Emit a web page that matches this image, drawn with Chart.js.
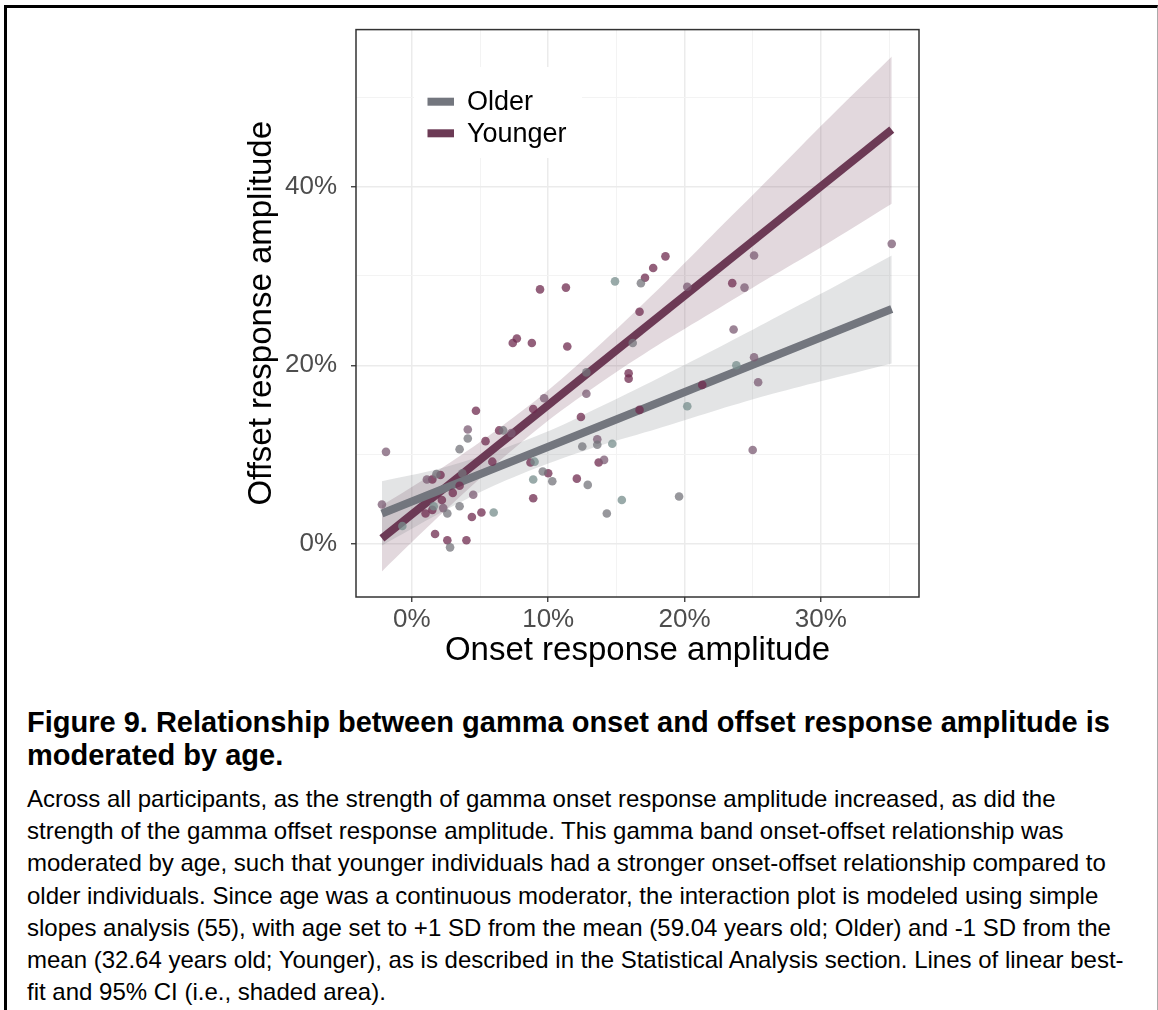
<!DOCTYPE html>
<html>
<head>
<meta charset="utf-8">
<script src="https://cdn.jsdelivr.net/npm/chart.js@4.4.1/dist/chart.umd.min.js"></script>
<style>
  html, body { margin: 0; padding: 0; background: #fff; }
  body { width: 1158px; height: 1010px; position: relative; overflow: hidden;
         font-family: "Liberation Sans", Arial, sans-serif; color: #000; }
  #frame { position: absolute; left: 4px; top: 5px; width: 1150px; height: 1010px;
           border-top: 3px solid #000; border-left: 3px solid #000; border-right: 1px solid #aaa; }
  #plot { position: absolute; left: 0; top: 0; }
  .title { position: absolute; left: 27px; top: 706px; font-weight: bold; font-size: 29px;
           line-height: 33px; white-space: nowrap; }
  .body { position: absolute; left: 27px; top: 783px; font-size: 24px; line-height: 32.2px;
          white-space: nowrap; }
</style>
</head>
<body>
<div id="frame"></div>
<canvas id="plot" width="1158" height="690"></canvas>
<div class="title">Figure 9. Relationship between gamma onset and offset response amplitude is<br>moderated by age.</div>
<div class="body">Across all participants, as the strength of gamma onset response amplitude increased, as did the<br>strength of the gamma offset response amplitude. This gamma band onset-offset relationship was<br>moderated by age, such that younger individuals had a stronger onset-offset relationship compared to<br>older individuals. Since age was a continuous moderator, the interaction plot is modeled using simple<br>slopes analysis (55), with age set to +1 SD from the mean (59.04 years old; Older) and -1 SD from the<br>mean (32.64 years old; Younger), as is described in the Statistical Analysis section. Lines of linear best-<br>fit and 95% CI (i.e., shaded area).</div>
<script>
// ---- data (percent) ----
const seriesNames = ['Older', 'Younger'];

// fitted lines (end points)
const fitX = [-2.2, 35.2];
const olderFit = [3.4, 26.3];
const youngerFit = [0.6, 46.4];

// 95% CI ribbons
const bandX = [-2.2, 2, 6, 10, 14, 18, 22, 26, 30, 35.2];
const olderUpper = [7.0, 8.4, 10.3, 12.6, 15.5, 18.5, 21.6, 24.8, 28.0, 32.3];
const olderLower = [-0.2, 3.4, 6.5, 9.0, 11.1, 12.9, 14.8, 16.6, 18.2, 20.2];
const youngerUpper = [4.3, 8.3, 12.5, 17.2, 22.6, 28.4, 34.5, 40.6, 46.8, 54.6];
const youngerLower = [-3.1, 3.1, 8.7, 13.8, 18.2, 22.2, 25.9, 29.6, 33.2, 38.1];

// participants, grouped by the shade of their dot (age colour scale)
const tealOnset = [-0.7, 1.6, 6.0, 14.9, 14.7, 9.0, 8.9, 15.4, 23.8, 20.2];
const tealOffset = [2.0, 4.2, 3.5, 29.4, 11.2, 9.2, 7.2, 4.9, 20.0, 15.4];

const grayOnset = [4.1, 3.5, 6.7, 1.8, 3.7, 2.6, 3.5, 2.8, 16.8, 16.2, 12.8, 13.6, 12.5, 9.6, 10.3, 12.9, 14.3, 19.6];
const grayOffset = [11.8, 10.6, 12.7, 7.8, 7.9, 3.4, 4.2, -0.4, 29.2, 22.5, 19.2, 11.1, 10.9, 8.1, 7.0, 6.6, 3.4, 5.3];

const mauveOnset = [-1.9, -2.2, 1.1, 2.3, 4.5, 4.1, 12.8, 9.7, 7.3, 13.6, 14.1, 20.2, 24.4, 23.6, 25.1, 25.1, 25.4, 25.0, 35.2];
const mauveOffset = [10.3, 4.4, 7.2, 4.0, 5.5, 12.8, 16.8, 16.3, 12.4, 11.7, 9.4, 28.8, 28.7, 24.0, 32.3, 20.9, 18.1, 10.5, 33.6];

const purpleOnset = [4.7, 5.4, 6.4, 5.9, 1.5, 2.1, 3.5, 3.0, 2.2, 1.5, 1.0, 4.4, 5.1, 1.7, 2.6, 4.0, 9.4, 11.3, 7.4, 7.7, 8.8, 11.4, 16.7, 15.9, 15.9, 8.9, 12.4, 16.7, 8.7, 13.7, 10.0, 12.1, 8.9, 18.6, 17.7, 17.1, 23.5, 21.3];
const purpleOffset = [14.9, 11.5, 12.7, 9.2, 7.2, 7.7, 6.5, 5.7, 4.9, 3.8, 3.4, 3.0, 3.5, 1.1, 0.4, 0.4, 28.5, 28.7, 22.5, 23.0, 22.5, 22.1, 26.0, 19.1, 18.5, 15.1, 14.2, 15.0, 9.1, 9.1, 7.9, 7.3, 5.1, 32.2, 30.9, 29.8, 29.2, 17.8];

// axes
const xTicks = [0, 5, 10, 15, 20, 25, 30, 35];
const xLabelled = [0, 10, 20, 30];
const yTicks = [0, 10, 20, 30, 40, 50];
const yLabelled = [0, 20, 40];

const olderColor = '#73767e';
const youngerColor = '#6c3a55';

const zip = (xs, ys) => xs.map((x, i) => ({ x: x, y: ys[i] }));

const pointSet = (xs, ys, color) => ({
  type: 'scatter',
  data: zip(xs, ys),
  backgroundColor: color,
  borderWidth: 0,
  pointRadius: 4.3,
  order: 0
});
const lineSet = (ys, color) => ({
  type: 'line',
  data: zip(fitX, ys),
  borderColor: color,
  borderWidth: 8,
  borderCapStyle: 'butt',
  pointRadius: 0,
  fill: false,
  order: 1
});
const bandSet = (ys, fill, color) => ({
  type: 'line',
  data: zip(bandX, ys),
  borderWidth: 0,
  borderColor: 'transparent',
  pointRadius: 0,
  tension: 0.3,
  fill: fill,
  backgroundColor: color,
  order: 2
});

// ggplot-like legend inside the panel + full panel border
const panelExtras = {
  id: 'panelExtras',
  afterDraw(chart) {
    const c = chart.ctx;
    const a = chart.chartArea;
    c.save();
    c.fillStyle = '#fff';
    c.fillRect(414, 67, 168, 91);
    const keys = [[olderColor, 101.7], [youngerColor, 133.3]];
    keys.forEach((k, i) => {
      c.fillStyle = k[0];
      c.fillRect(427.5, k[1] - 4, 26.5, 8);
      c.fillStyle = '#000';
      c.font = '27px "Liberation Sans", Arial, sans-serif';
      c.textBaseline = 'middle';
      c.textAlign = 'left';
      c.fillText(seriesNames[i], 467, k[1] + 1);
    });
    c.strokeStyle = '#333';
    c.lineWidth = 1.5;
    c.strokeRect(a.left, a.top, a.right - a.left, a.bottom - a.top);
    c.restore();
  }
};

const gridColor = (list) => (ctx) => list.includes(ctx.tick.value) ? '#ebebeb' : '#f3f3f3';
const tickColor = (list) => (ctx) => list.includes(ctx.tick.value) ? '#333' : 'rgba(0,0,0,0)';

new Chart(document.getElementById('plot'), {
  data: {
    datasets: [
      pointSet(tealOnset, tealOffset, 'rgba(119,142,140,0.75)'),
      pointSet(grayOnset, grayOffset, 'rgba(116,116,123,0.75)'),
      pointSet(mauveOnset, mauveOffset, 'rgba(123,91,115,0.75)'),
      pointSet(purpleOnset, purpleOffset, 'rgba(111,43,79,0.75)'),
      lineSet(olderFit, olderColor),
      lineSet(youngerFit, youngerColor),
      bandSet(olderUpper, '+1', 'rgba(116,119,126,0.2)'),
      bandSet(olderLower, false, 'transparent'),
      bandSet(youngerUpper, '+1', 'rgba(110,58,86,0.2)'),
      bandSet(youngerLower, false, 'transparent')
    ]
  },
  options: {
    responsive: false,
    animation: false,
    events: [],
    layout: { padding: { left: 242, top: 27, right: 239, bottom: 19 } },
    plugins: { legend: { display: false }, tooltip: { enabled: false } },
    scales: {
      x: {
        type: 'linear',
        min: -4.1,
        max: 37.2,
        afterBuildTicks: (s) => { s.ticks = xTicks.map(v => ({ value: v })); },
        afterFit: (s) => { s.height = 74; },
        ticks: {
          autoSkip: false,
          maxRotation: 0,
          padding: 2,
          color: '#4d4d4d',
          font: { size: 26, family: '"Liberation Sans", Arial, sans-serif' },
          callback: (v) => xLabelled.includes(v) ? v + '%' : ''
        },
        grid: {
          color: gridColor(xLabelled),
          lineWidth: (ctx) => xLabelled.includes(ctx.tick.value) ? 1.5 : 1,
          tickLength: 5,
          tickColor: tickColor(xLabelled),
          tickWidth: 1.3
        },
        border: { display: false },
        title: {
          display: true,
          text: 'Onset response amplitude',
          color: '#000',
          padding: 0,
          font: { size: 33, family: '"Liberation Sans", Arial, sans-serif' }
        }
      },
      y: {
        type: 'linear',
        min: -5.96,
        max: 57.6,
        afterBuildTicks: (s) => { s.ticks = yTicks.map(v => ({ value: v })); },
        afterFit: (s) => { s.width = 114; },
        ticks: {
          autoSkip: false,
          padding: 14,
          color: '#4d4d4d',
          font: { size: 26, family: '"Liberation Sans", Arial, sans-serif' },
          callback: (v) => yLabelled.includes(v) ? v + '%' : ''
        },
        grid: {
          color: gridColor(yLabelled),
          lineWidth: (ctx) => yLabelled.includes(ctx.tick.value) ? 1.5 : 1,
          tickLength: 5,
          tickColor: tickColor(yLabelled),
          tickWidth: 1.3
        },
        border: { display: false },
        title: {
          display: true,
          text: 'Offset response amplitude',
          color: '#000',
          padding: 0,
          font: { size: 33, family: '"Liberation Sans", Arial, sans-serif' }
        }
      }
    }
  },
  plugins: [panelExtras]
});
</script>
</body>
</html>
